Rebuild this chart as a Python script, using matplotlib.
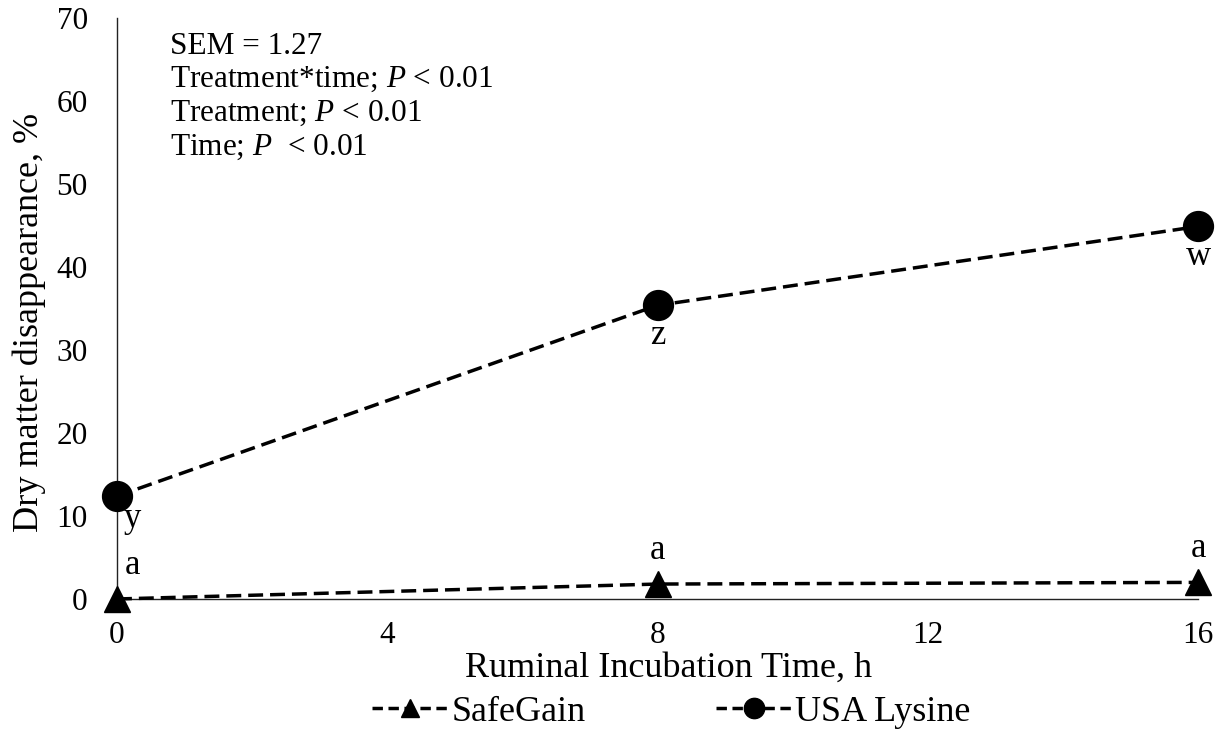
import matplotlib.pyplot as plt

plt.rcParams['font.family'] = ['Liberation Serif', 'DejaVu Serif']
plt.rcParams['mathtext.fontset'] = 'custom'
plt.rcParams['mathtext.it'] = 'Liberation Serif:italic'
plt.rcParams['mathtext.rm'] = 'Liberation Serif'

# data
hours = [0, 8, 16]
safegain = [0.0, 1.8, 2.0]
usa_lysine = [12.4, 35.4, 44.9]
safegain_letters = ['a', 'a', 'a']
lysine_letters = ['y', 'z', 'w']
stats_lines = ['SEM = 1.27',
               'Treatment*time; $\\mathit{P}$ < 0.01',
               'Treatment; $\\mathit{P}$ < 0.01',
               'Time; $\\mathit{P}$  < 0.01']

fig = plt.figure(figsize=(12.25, 7.31), dpi=100)
ax = fig.add_axes([0.0955, 0.1806, 0.8825, 0.7944])

line_kw = dict(linestyle='--', color='black', linewidth=2.5, dashes=(4.3, 2.0),
               clip_on=False, zorder=3)
ax.plot(hours, safegain, marker='^', markersize=19, label='SafeGain', **line_kw)
ax.plot(hours, usa_lysine, marker='o', markersize=21.5, label='USA Lysine', **line_kw)

# significance letters
for x, y, t in zip(hours, usa_lysine, lysine_letters):
    dx, dy = (11, -22) if x == 0 else (0, -28)
    ax.annotate(t, (x, y), xytext=(dx, dy), textcoords='offset points',
                ha='center', va='baseline', fontsize=25)
for x, y, t in zip(hours, safegain, safegain_letters):
    dx = 11 if x == 0 else 0
    ax.annotate(t, (x, y), xytext=(dx, 18), textcoords='offset points',
                ha='center', va='baseline', fontsize=25)

ax.text(0.049, 0.977, '\n'.join(stats_lines), transform=ax.transAxes,
        ha='left', va='top', fontsize=22.5, linespacing=1.2)

ax.set_xlim(0, 16)
ax.set_ylim(0, 70)
ax.set_xticks([0, 4, 8, 12, 16])
ax.set_yticks(range(0, 71, 10))
ax.tick_params(length=0, labelsize=22.5)
ax.tick_params(axis='y', pad=21)
ax.tick_params(axis='x', pad=16)
ax.spines['top'].set_visible(False)
ax.spines['right'].set_visible(False)
for s in ('left', 'bottom'):
    ax.spines[s].set_linewidth(1.0)
    ax.spines[s].set_color('#222222')

ax.set_xlabel('Ruminal Incubation Time, h', fontsize=26, labelpad=0)
ax.set_ylabel('Dry matter disappearance, %', fontsize=26)
ax.xaxis.set_label_coords(0.51, -0.09)
ax.yaxis.set_label_coords(-0.066, 0.477)

leg = fig.legend(loc='center', bbox_to_anchor=(0.548, 0.026), ncol=2, frameon=False,
                 fontsize=26, handlelength=2.1, handletextpad=0.1, columnspacing=3.6,
                 markerscale=0.68)
for ln in leg.get_lines():
    ln.set_dashes((3.0, 1.6))

fig.savefig('out.png', dpi=100)
